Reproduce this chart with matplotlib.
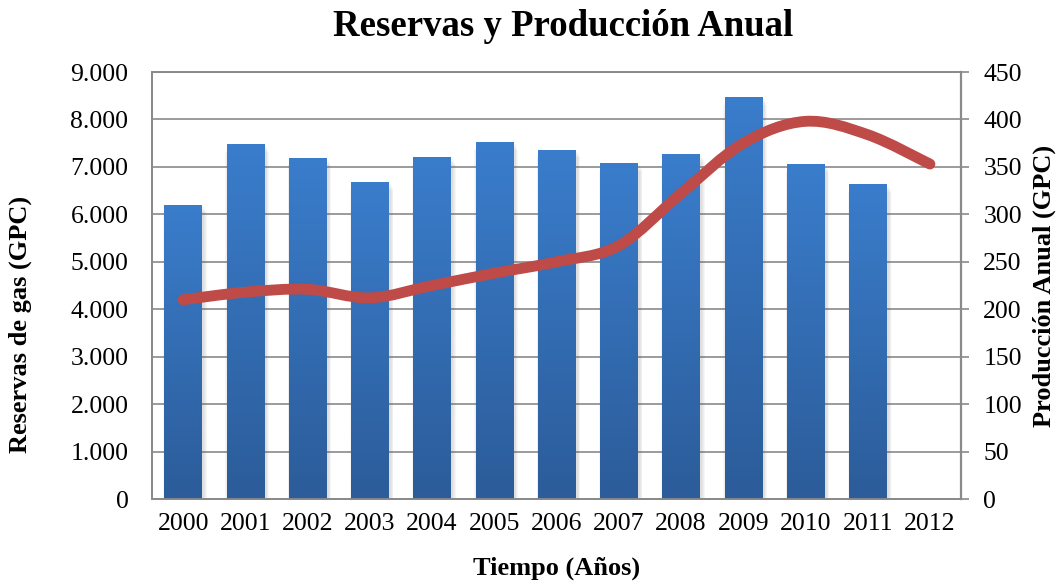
import numpy as np
import matplotlib
matplotlib.use("Agg")
import matplotlib.pyplot as plt
from matplotlib.path import Path
from matplotlib.patches import PathPatch

plt.rcParams['font.family'] = ['Liberation Serif', 'DejaVu Serif']

years = ['2000', '2001', '2002', '2003', '2004', '2005', '2006',
         '2007', '2008', '2009', '2010', '2011', '2012']
reservas = [6200, 7480, 7190, 6680, 7210, 7520, 7360,
            7080, 7270, 8470, 7060, 6640, 0]
produccion = [210, 218, 221, 212, 225, 238, 250,
              267, 322, 375, 398, 384, 353]

fig = plt.figure(figsize=(10.63, 5.84), dpi=100)
ax = fig.add_axes([0.143, 0.1455, 0.7611, 0.7312])
ax2 = ax.twinx()

x = np.arange(len(years))
grid_col = '#8a8a8a'

# soft shadow under the bars
for k in range(4):
    grow = 0.025 * (k + 1)
    ax.bar(x + 0.03, reservas, width=0.6 + grow, bottom=-40 * (k + 1),
           color='#606060', alpha=0.05, zorder=2, linewidth=0)

# bars with vertical gradient
bars = ax.bar(x, reservas, width=0.6, color='none', zorder=3, linewidth=0)
grad = np.linspace(0, 1, 256).reshape(-1, 1)
cmap = matplotlib.colors.LinearSegmentedColormap.from_list(
    'blu', ['#2c5c99', '#3a7dcc'])
for b in bars:
    h = b.get_height()
    if h <= 0:
        continue
    x0 = b.get_x()
    im = ax.imshow(grad, cmap=cmap, origin='lower', aspect='auto',
                   extent=[x0, x0 + b.get_width(), 0, h], zorder=3)
    im.set_clip_path(b)

ax.set_xlim(-0.5, len(years) - 0.5)
ax.set_ylim(0, 9000)
ax.set_yticks(np.arange(0, 9001, 1000))
ax.set_yticklabels(['0'] + [f'{v // 1000}.000' for v in range(1000, 9001, 1000)])
ax.set_xticks(x)
ax.set_xticklabels(years)
ax.yaxis.grid(True, color=grid_col, linewidth=1.2)
ax.set_axisbelow(True)
ax.tick_params(axis='y', length=0, pad=17, labelsize=18.5)
ax.tick_params(axis='x', length=0, pad=10, labelsize=18.5)

# smooth production curve (cubic bezier, excel-like smoothing)
px = x.astype(float)
py = np.array(produccion, dtype=float)
n = len(px)
verts = [(px[0], py[0])]
codes = [Path.MOVETO]
for i in range(n - 1):
    p0 = (px[max(i - 1, 0)], py[max(i - 1, 0)])
    p1 = (px[i], py[i])
    p2 = (px[i + 1], py[i + 1])
    p3 = (px[min(i + 2, n - 1)], py[min(i + 2, n - 1)])
    c1 = (p1[0] + (p2[0] - p0[0]) / 6, p1[1] + (p2[1] - p0[1]) / 6)
    c2 = (p2[0] - (p3[0] - p1[0]) / 6, p2[1] - (p3[1] - p1[1]) / 6)
    verts += [c1, c2, p2]
    codes += [Path.CURVE4] * 3
curve = PathPatch(Path(verts, codes), facecolor='none', edgecolor='#be4b48',
                  linewidth=7.8, capstyle='round', joinstyle='round', zorder=5)
ax2.add_patch(curve)

ax2.set_ylim(0, 450)
ax2.set_yticks(np.arange(0, 451, 50))
ax2.tick_params(axis='y', length=6, width=1.2, color=grid_col, pad=10,
                labelsize=18.5)

for a in (ax, ax2):
    for s in a.spines.values():
        s.set_color(grid_col)
        s.set_linewidth(1.3)
ax2.spines['right'].set_linewidth(1.6)

fig.text(563 / 1063, 1 - 27 / 584, 'Reservas y Producción Anual',
         ha='center', va='center', fontsize=26.5, fontweight='bold')
fig.text(557 / 1063, 1 - 568 / 584, 'Tiempo (Años)',
         ha='center', va='center', fontsize=19, fontweight='bold')
fig.text(20 / 1063, 1 - 324 / 584, 'Reservas de gas (GPC)', rotation=90,
         ha='center', va='center', fontsize=19, fontweight='bold')
fig.text(1044 / 1063, 1 - 286 / 584, 'Producción Anual (GPC)', rotation=90,
         ha='center', va='center', fontsize=19, fontweight='bold')

fig.savefig('out.png', dpi=100)
